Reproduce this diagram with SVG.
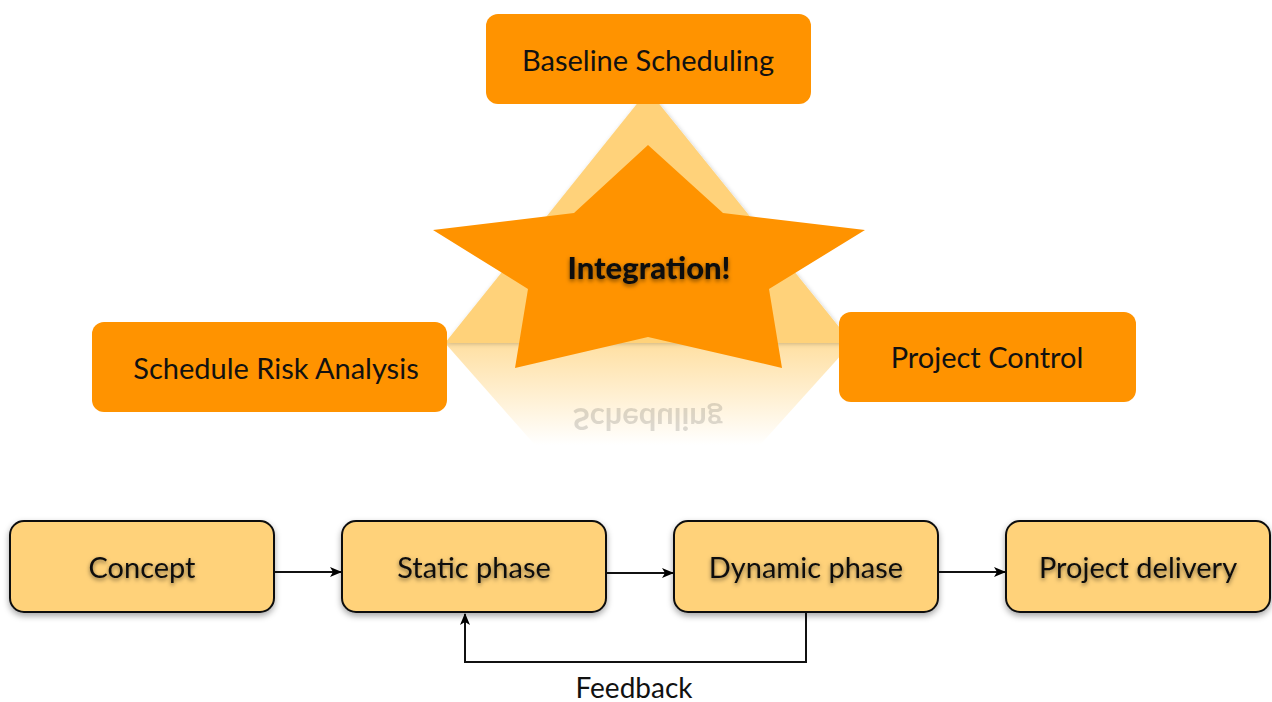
<svg xmlns="http://www.w3.org/2000/svg" width="1272" height="702" viewBox="0 0 1272 702">
<defs>
<filter id="sh" x="-20%" y="-20%" width="140%" height="150%">
<feDropShadow dx="0" dy="3" stdDeviation="3" flood-color="#000" flood-opacity="0.35"/>
</filter>
<filter id="tsh" x="-10%" y="-30%" width="120%" height="160%">
<feDropShadow dx="0" dy="2" stdDeviation="2" flood-color="#000" flood-opacity="0.5"/>
</filter>
<filter id="soft" x="-10%" y="-10%" width="120%" height="120%">
<feDropShadow dx="1" dy="1" stdDeviation="2" flood-color="#000" flood-opacity="0.2"/>
</filter>
<linearGradient id="refl" x1="0" y1="0" x2="0" y2="1">
<stop offset="0" stop-color="#FFD27A" stop-opacity="0.7"/>
<stop offset="1" stop-color="#FFD27A" stop-opacity="0"/>
</linearGradient>
<marker id="ah" markerWidth="12" markerHeight="10" refX="11" refY="5" orient="auto" markerUnits="userSpaceOnUse">
<path d="M0,0 L12,5 L0,10 L3,5 Z" fill="#000"/>
</marker>
<style>
.top{fill:#FF9300}
.ph{fill:#FFD27A;stroke:#111;stroke-width:2}
.t{font-family:Lato,"Open Sans",sans-serif;font-size:29px;fill:#111;text-anchor:middle}
.c{stroke:#111;stroke-width:2;fill:none}
</style>
</defs>

<g id="triangle">
<polygon points="445,343 852,343 760,445 535,445" fill="url(#refl)"/>
<text x="648" y="-408" class="t" transform="scale(1,-1)" fill="#bbb" opacity="0.14" style="font-weight:bold;font-size:31px">Scheduling</text>
<polygon points="648,90 852,343 445,343" fill="#FFD27A" filter="url(#soft)"/>
</g>

<g id="star">
<polygon points="648,145 723,213 865,230 769,289 782,368 648,337 515,368 528,289 433,230 574,213" fill="#FF9300"/>
<text x="649" y="279" class="t" style="font-weight:900;font-size:31px" fill="#000" filter="url(#tsh)">Integration!</text>
</g>

<g id="baseline">
<rect x="486" y="14" width="325" height="90" rx="12" class="top"/>
<text x="648" y="71" class="t">Baseline Scheduling</text>
</g>
<g id="sra">
<rect x="92" y="322" width="355" height="90" rx="12" class="top"/>
<text x="276" y="379" class="t">Schedule Risk Analysis</text>
</g>
<g id="pc">
<rect x="839" y="312" width="297" height="90" rx="12" class="top"/>
<text x="987" y="368" class="t">Project Control</text>
</g>

<g id="concept" filter="url(#sh)">
<rect x="10" y="521" width="264" height="91" rx="14" class="ph"/>
<text x="142" y="578" class="t" filter="url(#tsh)">Concept</text>
</g>
<g id="static" filter="url(#sh)">
<rect x="342" y="521" width="264" height="91" rx="14" class="ph"/>
<text x="474" y="578" class="t" filter="url(#tsh)">Static phase</text>
</g>
<g id="dynamic" filter="url(#sh)">
<rect x="674" y="521" width="264" height="91" rx="14" class="ph"/>
<text x="806" y="578" class="t" filter="url(#tsh)">Dynamic phase</text>
</g>
<g id="delivery" filter="url(#sh)">
<rect x="1006" y="521" width="264" height="91" rx="14" class="ph"/>
<text x="1138" y="578" class="t" filter="url(#tsh)">Project delivery</text>
</g>

<g id="connectors">
<line x1="275" y1="572" x2="341" y2="572" class="c" marker-end="url(#ah)"/>
<line x1="607" y1="573" x2="673" y2="573" class="c" marker-end="url(#ah)"/>
<line x1="939" y1="572" x2="1005" y2="572" class="c" marker-end="url(#ah)"/>
<polyline points="806,613 806,662 465,662 465,614" class="c" marker-end="url(#ah)"/>
<text x="634" y="698" class="t" style="font-size:28px">Feedback</text>
</g>
</svg>
